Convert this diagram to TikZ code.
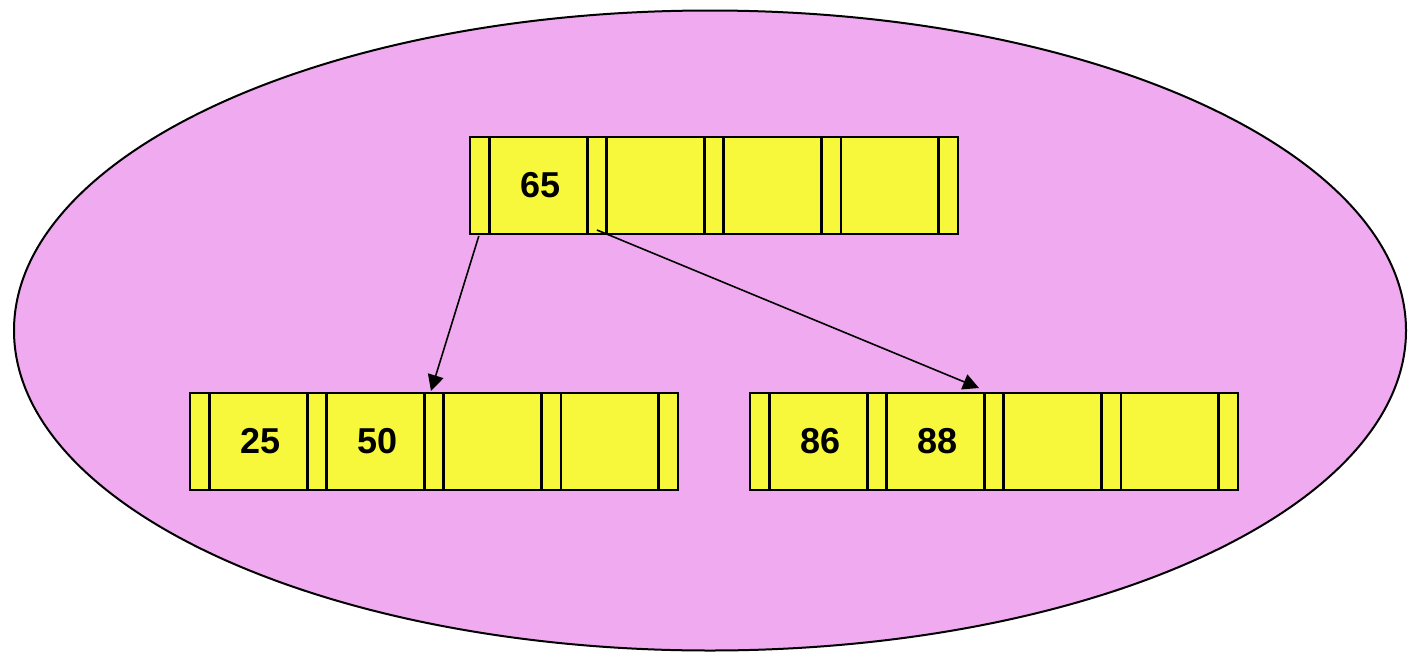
\documentclass[tikz,border=0pt]{standalone}
\usepackage{fontspec}
\setmainfont{Liberation Sans}
\usetikzlibrary{shapes.geometric,arrows.meta,calc}
\definecolor{bgpink}{RGB}{240,171,240}
\definecolor{cellyellow}{RGB}{247,247,59}
\tikzset{
  ptrcell/.style={draw=black, line width=1.4pt, fill=cellyellow, inner sep=0pt, outer sep=0pt,
    minimum width=9.8pt, minimum height=48.5pt},
  keycell/.style={draw=black, line width=1.4pt, fill=cellyellow, inner sep=0pt, outer sep=0pt,
    minimum width=48.75pt, minimum height=48.5pt, font=\fontsize{18pt}{20pt}\selectfont\bfseries},
  link/.style={draw=black, line width=0.8pt, -{Triangle[length=8pt,width=8pt]}}
}
\newcommand\keytext[1]{\hspace*{2.4pt}\raisebox{1pt}{#1}}
\newcommand\btnode[7]{%
  \node[ptrcell, anchor=north west] (#1-p0) at (#2,#3) {};
  \node[keycell, anchor=west] (#1-k1) at (#1-p0.east) {\keytext{#4}};
  \node[ptrcell, anchor=west] (#1-p1) at (#1-k1.east) {};
  \node[keycell, anchor=west] (#1-k2) at (#1-p1.east) {\keytext{#5}};
  \node[ptrcell, anchor=west] (#1-p2) at (#1-k2.east) {};
  \node[keycell, anchor=west] (#1-k3) at (#1-p2.east) {\keytext{#6}};
  \node[ptrcell, anchor=west] (#1-p3) at (#1-k3.east) {};
  \node[keycell, anchor=west] (#1-k4) at (#1-p3.east) {\keytext{#7}};
  \node[ptrcell, anchor=west] (#1-p4) at (#1-k4.east) {};
}
\begin{document}
\begin{tikzpicture}[x=0.5pt, y=-0.5pt]
\useasboundingbox (0,0) rectangle (1408,659);
\node[ellipse, draw=black, line width=1pt, fill=bgpink, inner sep=0pt,
  minimum width=696pt, minimum height=320pt] (bg) at (710,330.5) {};
\btnode{root}{470}{137}{65}{}{}{}
\btnode{left}{190}{393}{25}{50}{}{}
\btnode{right}{750}{393}{86}{88}{}{}
\draw[link] ($(root-p0.south)+(-0.5pt,-1pt)$) -- ($(left-p2.north)+(-1.5pt,1pt)$);
\draw[link] ($(root-p1.south)+(0pt,2pt)$) -- ($(right-p2.north)+(-7.5pt,2.5pt)$);
\end{tikzpicture}
\end{document}
